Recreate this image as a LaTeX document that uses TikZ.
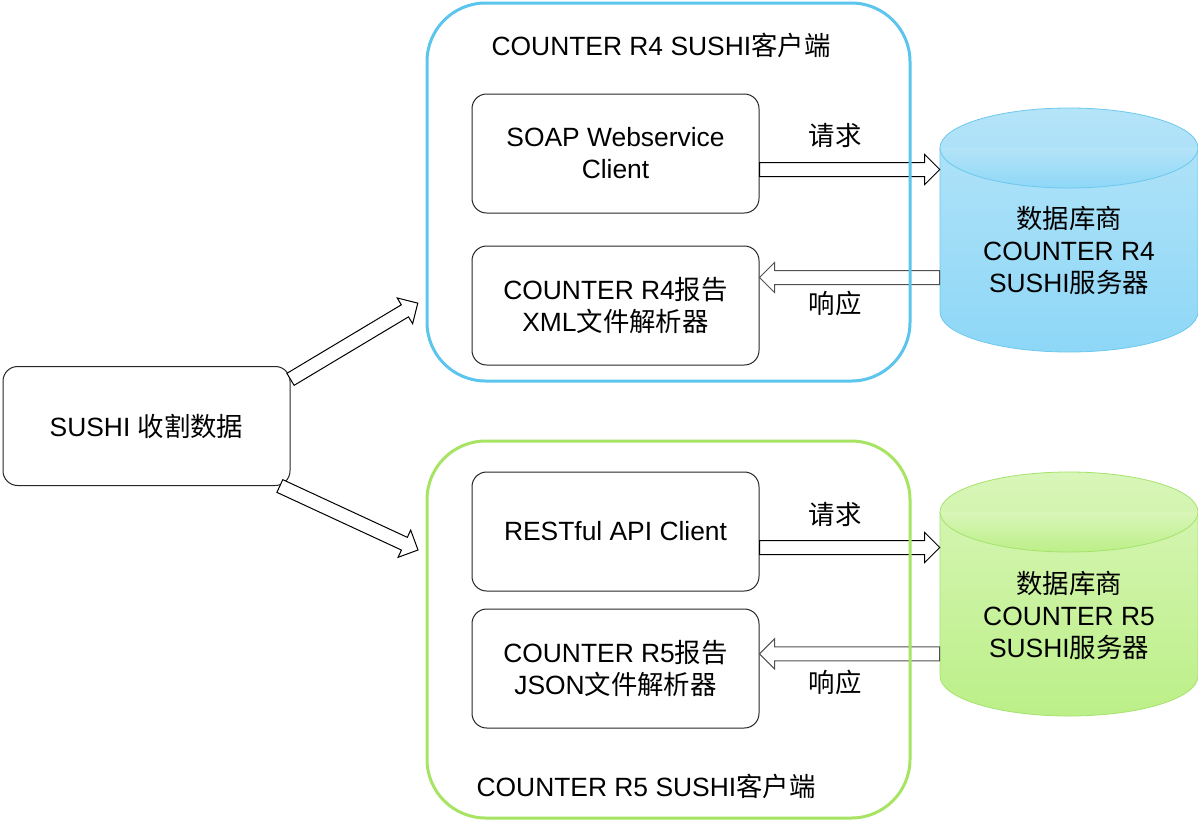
\documentclass[tikz,border=0pt]{standalone}
\usepackage{fontspec}
\setmainfont{Liberation Sans}
\newfontfamily\cjk{Noto Sans CJK SC}
\usepackage{xcolor}
\usepackage{tikz}
\usetikzlibrary{positioning,calc}

\definecolor{clientblue}{HTML}{5BC5EE}
\definecolor{clientgreen}{HTML}{A8E464}
\definecolor{respgray}{HTML}{505050}
\definecolor{dbbluetop}{HTML}{B4E4F8}
\definecolor{dbbluebot}{HTML}{8ED7F7}
\definecolor{dbblueline}{HTML}{6CC8EE}
\definecolor{dbgreentop}{HTML}{D8F6B8}
\definecolor{dbgreenbot}{HTML}{BCEF88}
\definecolor{dbgreenline}{HTML}{A6E26E}

\newcommand\zh[1]{{\cjk #1}}

% hollow block arrow between two points
\newcommand\blkarrow[3][]{%
  \path #2 coordinate (blkA) #3 coordinate (blkB);
  \pgfpointdiff{\pgfpointanchor{blkA}{center}}{\pgfpointanchor{blkB}{center}}%
  \pgfgetlastxy{\blkdx}{\blkdy}%
  \pgfmathsetmacro\blkang{atan2(\blkdy,\blkdx)}%
  \pgfmathsetmacro\blklen{veclen(\blkdx,\blkdy)}%
  \draw[fill=white, line width=0.75pt, #1, shift={(blkA)}, rotate=\blkang]
    (0,-5.25pt) -- (\blklen pt-11.25pt,-5.25pt) -- (\blklen pt-11.25pt,-11.25pt)
    -- (\blklen pt,0) -- (\blklen pt-11.25pt,11.25pt) -- (\blklen pt-11.25pt,5.25pt)
    -- (0,5.25pt) -- cycle;
}

% database cylinder around a coordinate
\newcommand\dbcyl[2]{%
  \begin{scope}[shift={(#2)}]
    \draw[#1] (-96.75pt,61.5pt) -- (-96.75pt,-61.5pt)
      arc[start angle=180, end angle=360, x radius=96.75pt, y radius=30pt]
      -- (96.75pt,61.5pt)
      arc[start angle=0, end angle=180, x radius=96.75pt, y radius=30pt] -- cycle;
    \draw[#1, fill=none] (-96.75pt,61.5pt)
      arc[start angle=180, end angle=360, x radius=96.75pt, y radius=30pt];
  \end{scope}
}

\begin{document}
\begin{tikzpicture}[x=0.75pt, y=-0.75pt, font=\fontsize{19.8}{24}\selectfont,
    box/.style={draw=black!85, rounded corners=11pt, line width=0.75pt,
      minimum width=215.25pt, minimum height=89.25pt, align=center},
    panel/.style={rounded corners=44pt, line width=2.25pt, minimum width=362.25pt},
    dbtext/.style={minimum width=193.5pt, inner xsep=0pt, align=center},
    db4/.style={draw=dbblueline, line width=0.6pt, top color=dbbluetop, bottom color=dbbluebot},
    db5/.style={draw=dbgreenline, line width=0.6pt, top color=dbgreentop, bottom color=dbgreenbot}]
  \useasboundingbox (0,0) rectangle (1198,821);

  \node[box] (sushi) at (146.5,426) {SUSHI \zh{收割数据}};

  \node[box] (soap) at (615.5,153.5) {SOAP Webservice\\Client};
  \node[box, below=24pt of soap] (parse4) {COUNTER R4\zh{报告}\\XML\zh{文件解析器}};
  \node[box] (rest) at (615.5,531.5) {RESTful API Client};
  \node[box, below=12.75pt of rest] (parse5) {COUNTER R5\zh{报告}\\JSON\zh{文件解析器}};

  \coordinate (db4c) at (1069,230);
  \coordinate (db5c) at (1069,594);
  \dbcyl{db4}{db4c}
  \dbcyl{db5}{db5c}
  \node[dbtext] (db4) at (1069,250) {\zh{数据库商}\\COUNTER R4\\SUSHI\zh{服务器}};
  \node[dbtext] (db5) at (1069,615) {\zh{数据库商}\\COUNTER R5\\SUSHI\zh{服务器}};

  \coordinate (req4) at ([yshift=-12pt]soap.east);
  \coordinate (res4) at ([yshift=21pt]parse4.east);
  \coordinate (req5) at ([yshift=-12pt]rest.east);
  \coordinate (res5) at ([yshift=11pt]parse5.east);
  \coordinate (in4) at (418,303);
  \coordinate (in5) at (418,550);

  \blkarrow{(req4)}{(req4 -| db4.west)}
  \blkarrow[draw=respgray]{(res4 -| db4.west)}{(res4)}
  \blkarrow{(req5)}{(req5 -| db5.west)}
  \blkarrow[draw=respgray]{(res5 -| db5.west)}{(res5)}
  \blkarrow{([yshift=-10pt]sushi.north east)}{(in4)}
  \blkarrow{([xshift=-8pt]sushi.south east)}{(in5)}

  \node (req4lbl) at (835,135) {\zh{请求}};
  \node (res4lbl) at (835,303) {\zh{响应}};
  \node (req5lbl) at (835,514) {\zh{请求}};
  \node (res5lbl) at (835,682) {\zh{响应}};

  \node[panel, draw=clientblue, minimum height=283.5pt] (r4) at (668.5,192) {};
  \node (r4title) at (661,45) {COUNTER R4 SUSHI\zh{客户端}};
  \node[panel, draw=clientgreen, minimum height=282.75pt] (r5) at (668.5,629.5) {};
  \node (r5title) at (646,786) {COUNTER R5 SUSHI\zh{客户端}};
\end{tikzpicture}
\end{document}
